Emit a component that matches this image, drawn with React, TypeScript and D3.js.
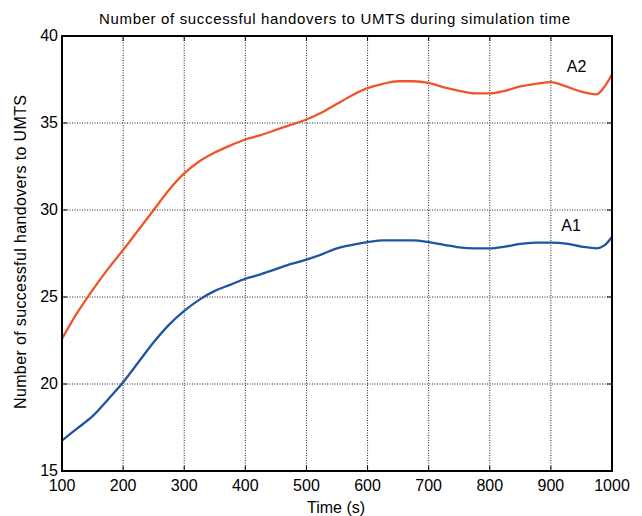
import React, { useEffect, useRef } from 'react';
import * as d3 from 'd3';

const times = [100, 125, 150, 175, 200, 225, 250, 275, 300, 325, 350, 375, 400, 425, 450, 475, 500, 525, 550, 575, 600, 625, 650, 675, 700, 725, 750, 775, 800, 825, 850, 875, 900, 925, 950, 975, 987, 1000];

const a2 = [22.6, 24.1, 25.4, 26.6, 27.7, 28.85, 30.0, 31.15, 32.1, 32.8, 33.3, 33.7, 34.05, 34.3, 34.6, 34.9, 35.2, 35.6, 36.1, 36.6, 37.0, 37.25, 37.4, 37.4, 37.3, 37.05, 36.85, 36.7, 36.7, 36.85, 37.1, 37.25, 37.35, 37.1, 36.8, 36.65, 37.05, 37.8];

const a1 = [16.75, 17.45, 18.15, 19.1, 20.1, 21.25, 22.4, 23.4, 24.2, 24.85, 25.35, 25.7, 26.05, 26.3, 26.6, 26.9, 27.15, 27.45, 27.8, 28.0, 28.15, 28.25, 28.25, 28.25, 28.15, 28.0, 27.85, 27.8, 27.8, 27.9, 28.05, 28.12, 28.13, 28.07, 27.9, 27.8, 27.95, 28.45];

const xTicks = [100, 200, 300, 400, 500, 600, 700, 800, 900, 1000];
const yTicks = [15, 20, 25, 30, 35, 40];

const series = [
  { name: 'A2', values: a2, color: '#f0552a', labelAt: [942, 37.95] },
  { name: 'A1', values: a1, color: '#1d56a0', labelAt: [933, 28.82] },
];

export default function App() {
  const svgRef = useRef<SVGSVGElement>(null);

  useEffect(() => {
    if (!svgRef.current) return;
    const width = 642;
    const height = 516;
    const margin = { top: 36, right: 30, bottom: 45, left: 62 };

    const svg = d3.select(svgRef.current);
    svg.selectAll('*').remove();

    const x = d3.scaleLinear().domain([100, 1000]).range([margin.left, width - margin.right]);
    const y = d3.scaleLinear().domain([15, 40]).range([height - margin.bottom, margin.top]);

    svg.append('rect').attr('width', width).attr('height', height).attr('fill', '#fff');

    const font = 'Liberation Sans, Arial, sans-serif';

    // grid
    svg.append('g')
      .selectAll('line')
      .data(xTicks.slice(1, -1))
      .enter().append('line')
      .attr('x1', d => x(d)).attr('x2', d => x(d))
      .attr('y1', y(15)).attr('y2', y(40))
      .attr('stroke', '#222').attr('stroke-width', 1).attr('stroke-dasharray', '1,1.5');

    svg.append('g')
      .selectAll('line')
      .data(yTicks.slice(1, -1))
      .enter().append('line')
      .attr('x1', x(100)).attr('x2', x(1000))
      .attr('y1', d => y(d)).attr('y2', d => y(d))
      .attr('stroke', '#222').attr('stroke-width', 1).attr('stroke-dasharray', '1,1.5');

    // inner tick marks
    const tk = svg.append('g').attr('stroke', '#000').attr('stroke-width', 1);
    xTicks.forEach(t => {
      tk.append('line').attr('x1', x(t)).attr('x2', x(t)).attr('y1', y(15)).attr('y2', y(15) - 5);
      tk.append('line').attr('x1', x(t)).attr('x2', x(t)).attr('y1', y(40)).attr('y2', y(40) + 5);
    });
    yTicks.forEach(t => {
      tk.append('line').attr('x1', x(100)).attr('x2', x(100) + 5).attr('y1', y(t)).attr('y2', y(t));
      tk.append('line').attr('x1', x(1000)).attr('x2', x(1000) - 5).attr('y1', y(t)).attr('y2', y(t));
    });

    // lines
    const line = d3.line<number>()
      .x((_, i) => x(times[i]))
      .y(d => y(d))
      .curve(d3.curveMonotoneX);

    series.forEach(s => {
      svg.append('path')
        .datum(s.values)
        .attr('fill', 'none')
        .attr('stroke', s.color)
        .attr('stroke-width', 2.3)
        .attr('d', line);
      svg.append('text')
        .attr('x', x(s.labelAt[0]))
        .attr('y', y(s.labelAt[1]))
        .attr('text-anchor', 'middle')
        .style('font-family', font)
        .style('font-size', '16px')
        .text(s.name);
    });

    // box
    svg.append('rect')
      .attr('x', x(100)).attr('y', y(40))
      .attr('width', x(1000) - x(100)).attr('height', y(15) - y(40))
      .attr('fill', 'none').attr('stroke', '#000').attr('stroke-width', 2);

    // x tick labels
    svg.append('g')
      .selectAll('text')
      .data(xTicks)
      .enter().append('text')
      .attr('x', d => x(d))
      .attr('y', y(15) + 20)
      .attr('text-anchor', 'middle')
      .style('font-family', font)
      .style('font-size', '16px')
      .text(d => d);

    // y tick labels
    svg.append('g')
      .selectAll('text')
      .data(yTicks)
      .enter().append('text')
      .attr('x', x(100) - 4)
      .attr('y', d => y(d) + 5)
      .attr('text-anchor', 'end')
      .style('font-family', font)
      .style('font-size', '16px')
      .text(d => d);

    svg.append('text')
      .attr('x', 334.5)
      .attr('y', 24)
      .attr('text-anchor', 'middle')
      .attr('textLength', 471)
      .attr('lengthAdjust', 'spacing')
      .style('font-family', font)
      .style('font-size', '15px')
      .text('Number of successful handovers to UMTS during simulation time');

    svg.append('text')
      .attr('x', 336)
      .attr('y', 512.5)
      .attr('text-anchor', 'middle')
      .style('font-family', font)
      .style('font-size', '16px')
      .text('Time (s)');

    svg.append('text')
      .attr('transform', 'translate(25.5,252) rotate(-90)')
      .attr('text-anchor', 'middle')
      .attr('textLength', 314)
      .attr('lengthAdjust', 'spacing')
      .style('font-family', font)
      .style('font-size', '16px')
      .text('Number of successful handovers to UMTS');
  }, []);

  return (
    <svg ref={svgRef} width={642} height={516} style={{ position: 'absolute', left: 0, top: 0, display: 'block' }} />
  );
}
